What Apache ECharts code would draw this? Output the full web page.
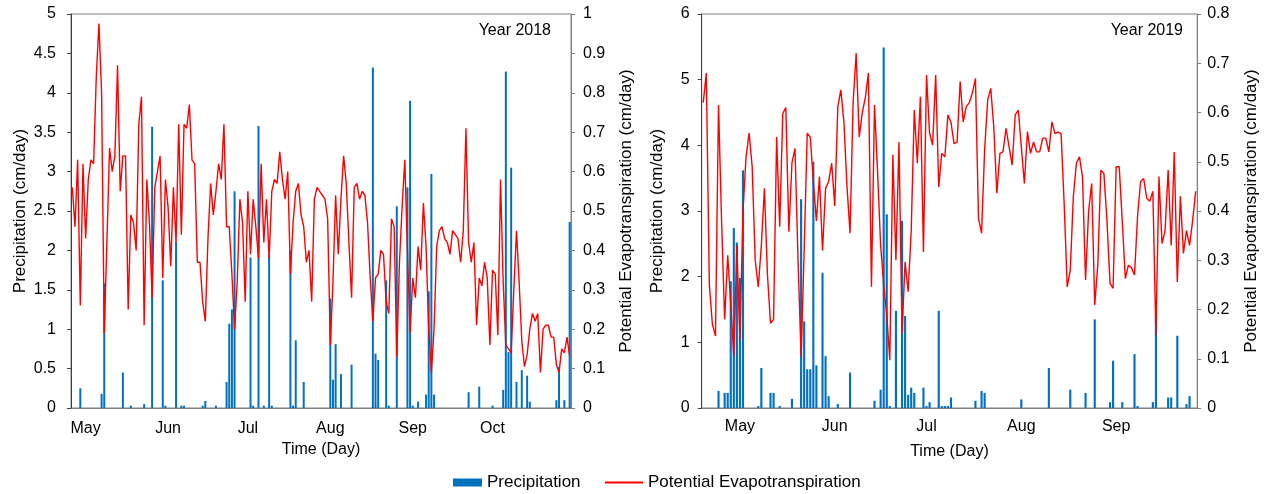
<!DOCTYPE html>
<html><head><meta charset="utf-8">
<script src="https://cdn.jsdelivr.net/npm/echarts@6/dist/echarts.min.js"></script>
<style>html,body{margin:0;padding:0;background:#fff}#c{width:1270px;height:494px}</style>
</head><body><div id="c"></div>
<script>
// ---------- data ----------
const start2018 = '2018-04-26';
const start2019 = '2019-04-19';
const panelTitles = ['Year 2018', 'Year 2019'];
const seriesNames = ['Precipitation', 'Potential Evapotranspiration'];
const monthNames = {'01':'Jan','02':'Feb','03':'Mar','04':'Apr','05':'May','06':'Jun','07':'Jul','08':'Aug','09':'Sep','10':'Oct','11':'Nov','12':'Dec'};

// daily precipitation, cm/day, 2018 (Apr 26 - Oct 30)
const precip2018 = [
0,0,0,0.25,0,0,0,0,0,0,
0,0.18,1.58,0,0,0,0,0,0,0.45,
0,0,0.03,0,0,0,0,0.05,0,0,
3.57,0,0,0,1.62,0.03,0,0,0,2.11,
0,0.03,0.03,0,0,0,0,0,0,0.03,
0.09,0,0,0,0.03,0,0,0,0.33,1.07,
1.25,2.75,0,0,0,0,0,1.91,0.03,0,
3.58,0,0.03,0,1.95,0.03,0,0,0,0,
0,0,2.0,0.03,0.86,0,0,0.33,0,0,
0,0,0,0,0,0,0,1.39,0.36,0.81,
0,0.43,0,0,0,0.55,0,0,0,0,
0,0,0,4.32,0.69,0.61,0,0,1.62,0.03,
0,0,2.56,0,0,0,2.8,3.9,0.03,0,
0.08,0,0,0.17,1.48,2.97,0.17,0,0,0,
0,0,0,0,0,0,0,0,0,0.2,
0,0,0,0.27,0,0,0,0,0.03,0,
0,0,0.23,4.27,0.71,3.05,0,0.33,0,0.48,
0,0.41,0.08,0,0,0,0,0,0,0,
0,0,0.1,0.52,0,0.1,0,2.36
];
// daily potential evapotranspiration, cm/day, 2018
const pet2018 = [
0.56,0.46,0.63,0.26,0.62,0.43,0.58,0.63,0.62,0.84,
0.976,0.8,0.19,0.42,0.66,0.6,0.64,0.87,0.55,0.64,
0.64,0.25,0.49,0.47,0.4,0.72,0.79,0.21,0.58,0.47,
0.28,0.56,0.6,0.64,0.33,0.58,0.51,0.36,0.56,0.42,
0.72,0.44,0.72,0.71,0.77,0.63,0.62,0.37,0.37,0.27,
0.22,0.43,0.57,0.49,0.55,0.62,0.58,0.72,0.46,0.46,
0.34,0.2,0.32,0.53,0.47,0.27,0.55,0.39,0.53,0.46,
0.38,0.62,0.42,0.53,0.38,0.55,0.58,0.57,0.65,0.58,
0.53,0.6,0.34,0.47,0.55,0.57,0.49,0.46,0.37,0.4,
0.27,0.53,0.56,0.55,0.54,0.53,0.48,0.16,0.32,0.54,
0.39,0.53,0.64,0.57,0.42,0.28,0.56,0.57,0.53,0.55,
0.54,0.47,0.33,0.22,0.33,0.34,0.4,0.39,0.27,0.24,
0.48,0.46,0.13,0.37,0.51,0.63,0.4,0.19,0.33,0.28,
0.41,0.35,0.52,0.41,0.2,0.09,0.2,0.41,0.45,0.46,
0.43,0.42,0.39,0.45,0.44,0.43,0.37,0.45,0.71,0.42,
0.37,0.42,0.21,0.33,0.31,0.37,0.33,0.16,0.35,0.34,
0.185,0.58,0.32,0.16,0.15,0.14,0.3,0.45,0.32,0.17,
0.105,0.135,0.2,0.24,0.22,0.24,0.09,0.2,0.21,0.21,
0.18,0.18,0.11,0.09,0.15,0.14,0.18,0.13
];
// daily precipitation, cm/day, 2019 (Apr 19 - Sep 27)
const precip2019 = [
0,0,0,0,0,0.26,0,0.23,0.23,1.93,
2.74,2.52,1.98,3.62,0,0,0,0,0.03,0.61,
0,0,0.23,0.23,0,0.03,0,0,0,0.14,
0,0,3.18,1.32,0.59,0.59,3.75,0.65,0,2.06,
0.79,0.18,0,0,0.06,0,0,0,0.54,0,
0,0,0,0,0,0,0.11,0,0.28,5.49,
2.95,0.03,0,1.48,0,2.85,1.4,0.2,0.31,0.23,
0,0,0.31,0.03,0.09,0,0,1.48,0.03,0.03,
0.03,0.16,0,0,0,0,0,0,0,0.11,
0,0.26,0.23,0,0,0,0,0,0,0,
0,0,0,0,0.13,0,0,0,0,0,
0,0,0,0.61,0,0,0,0,0,0,
0.28,0,0,0,0,0.23,0,0,1.35,0,
0,0,0,0.09,0.72,0,0,0.09,0,0,
0,0.82,0.03,0,0,0,0,0.09,1.4,0,
0,0,0.16,0.16,0,1.1,0,0,0.06,0.18,
0,0
];
// daily potential evapotranspiration, cm/day, 2019
const pet2019 = [
0.62,0.68,0.25,0.17,0.146,0.615,0.38,0.18,0.31,0.21,
0.104,0.33,0.138,0.4,0.51,0.558,0.49,0.3,0.246,0.33,
0.446,0.27,0.172,0.18,0.55,0.368,0.598,0.61,0.358,0.497,
0.527,0.3,0.104,0.32,0.558,0.55,0.46,0.38,0.47,0.32,
0.446,0.46,0.497,0.41,0.612,0.646,0.58,0.45,0.355,0.62,
0.72,0.55,0.6,0.63,0.68,0.246,0.615,0.48,0.33,0.25,
0.19,0.097,0.514,0.3,0.54,0.152,0.297,0.236,0.36,0.605,
0.497,0.632,0.317,0.676,0.558,0.534,0.676,0.449,0.517,0.51,
0.595,0.58,0.537,0.54,0.663,0.581,0.612,0.62,0.64,0.669,
0.385,0.355,0.524,0.625,0.649,0.57,0.436,0.517,0.52,0.568,
0.53,0.493,0.595,0.605,0.53,0.456,0.561,0.517,0.54,0.52,
0.52,0.548,0.548,0.52,0.581,0.557,0.56,0.557,0.416,0.246,
0.28,0.429,0.497,0.51,0.47,0.26,0.4,0.456,0.209,0.29,
0.483,0.476,0.38,0.253,0.243,0.49,0.49,0.38,0.263,0.29,
0.285,0.27,0.39,0.46,0.466,0.426,0.42,0.44,0.148,0.47,
0.334,0.36,0.483,0.33,0.52,0.256,0.43,0.314,0.36,0.33,
0.38,0.44
];

// ---------- build categories (one per day) ----------
function dateCats(startStr, n) {
  const out = [];
  const t0 = Date.parse(startStr + 'T00:00:00Z');
  for (let i = 0; i < n; i++) out.push(new Date(t0 + i * 86400000).toISOString().slice(0, 10));
  return out;
}
const cats2018 = dateCats(start2018, precip2018.length);
const cats2019 = dateCats(start2019, precip2019.length);

// ---------- styles ----------
const FONT = "'Liberation Sans', Arial, sans-serif";
const TXT = '#000000';
const AX = '#808080';
const AXD = '#404040';
const BLUE = '#0070C0';
const RED = '#FF0000';
const isMonthStart = (i, v) => v.slice(8) === '01';
const txt = (size) => ({ color: TXT, fontSize: size, fontFamily: FONT });

function xAx(gi, cats, align, labelMargin, nameGap) {
  return {
    type: 'category', gridIndex: gi, data: cats, boundaryGap: true,
    axisLine: { lineStyle: { color: AX, width: 1 } },
    axisTick: { interval: isMonthStart, alignWithLabel: align, length: 4, lineStyle: { color: AX } },
    axisLabel: Object.assign({ interval: isMonthStart, formatter: v => monthNames[v.slice(5, 7)], margin: labelMargin }, txt(16)),
    splitLine: { show: false },
    name: 'Time (Day)', nameLocation: 'middle', nameGap: nameGap, nameTextStyle: txt(16)
  };
}
function yAx(gi, pos, max, step, name, nameGap, lineColor, margin) {
  return {
    type: 'value', gridIndex: gi, position: pos, min: 0, max: max, interval: step,
    axisLine: { show: true, lineStyle: { color: lineColor, width: 1 } },
    axisTick: { show: true, length: 4, lineStyle: { color: lineColor } },
    axisLabel: Object.assign({ margin: margin }, txt(16)),
    splitLine: { show: false },
    name: name, nameLocation: 'middle', nameRotate: 90, nameGap: nameGap, nameTextStyle: txt(17)
  };
}

const chart = echarts.init(document.getElementById('c'), null, { renderer: 'canvas' });
chart.setOption({
  backgroundColor: '#ffffff',
  animation: false,
  grid: [
    { left: 71, top: 14, width: 500, height: 394, show: true, borderColor: AX, borderWidth: 1 },
    { left: 701.7, top: 14, width: 495.5, height: 394, show: true, borderColor: AX, borderWidth: 1 }
  ],
  xAxis: [xAx(0, cats2018, false, 13, 25), xAx(1, cats2019, true, 11, 36)],
  yAxis: [
    yAx(0, 'left', 5, 0.5, 'Precipitation (cm/day)', 42, AXD, 15),
    yAx(0, 'right', 1, 0.1, 'Potential Evapotranspiration (cm/day)', 47, AX, 12),
    yAx(1, 'left', 6, 1, 'Precipitation (cm/day)', 36, AXD, 12),
    yAx(1, 'right', 0.8, 0.1, 'Potential Evapotranspiration (cm/day)', 46, AX, 10)
  ],
  legend: [
    { data: [seriesNames[0]], left: 448, top: 469, icon: 'rect', itemWidth: 29, itemHeight: 8, textStyle: txt(17) },
    { data: [seriesNames[1]], left: 600, top: 469, icon: 'rect', itemWidth: 38, itemHeight: 2, textStyle: txt(17) }
  ],
  series: [
    { name: seriesNames[0], type: 'bar', xAxisIndex: 0, yAxisIndex: 0, data: precip2018, barWidth: '75%', itemStyle: { color: BLUE }, z: 2 },
    { name: seriesNames[1], type: 'line', xAxisIndex: 0, yAxisIndex: 1, data: pet2018, symbol: 'none', lineStyle: { color: RED, width: 1.4 }, itemStyle: { color: RED }, z: 3 },
    { name: seriesNames[0], type: 'bar', xAxisIndex: 1, yAxisIndex: 2, data: precip2019, barWidth: '70%', itemStyle: { color: BLUE }, z: 2 },
    { name: seriesNames[1], type: 'line', xAxisIndex: 1, yAxisIndex: 3, data: pet2019, symbol: 'none', lineStyle: { color: RED, width: 1.4 }, itemStyle: { color: RED }, z: 3 }
  ],
  graphic: [
    { type: 'text', x: 551, y: 31, style: { text: panelTitles[0], fill: TXT, font: '16px ' + FONT, align: 'right', verticalAlign: 'middle' } },
    { type: 'text', x: 1183, y: 31, style: { text: panelTitles[1], fill: TXT, font: '16px ' + FONT, align: 'right', verticalAlign: 'middle' } }
  ]
});
</script></body></html>
